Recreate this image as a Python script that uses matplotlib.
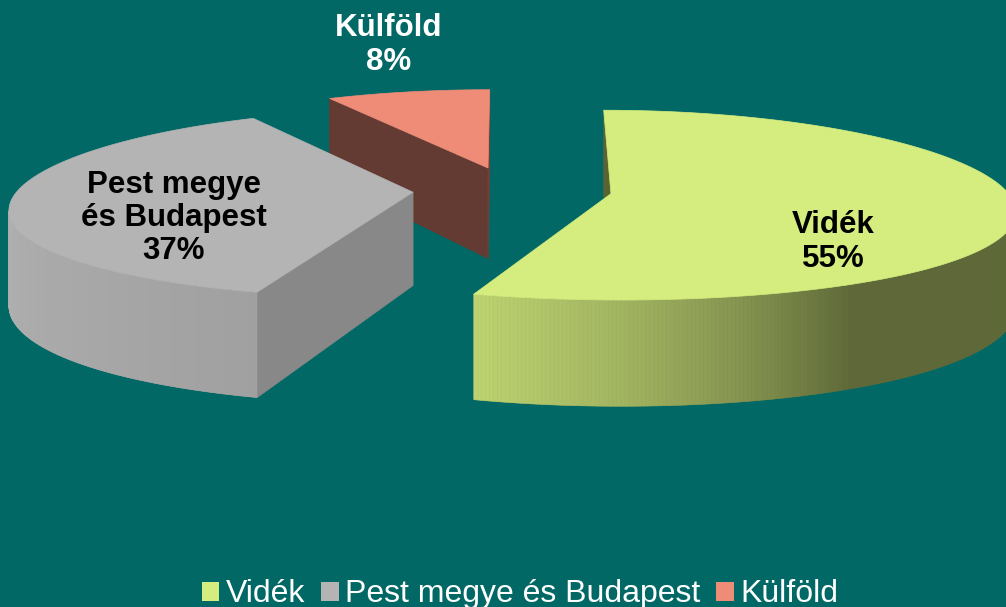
import numpy as np
import matplotlib
matplotlib.use("Agg")
import matplotlib.pyplot as plt
from matplotlib.patches import Polygon, Patch
from matplotlib.colors import to_rgb

# --- data ---
categories = ["Vidék", "Pest megye és Budapest", "Külföld"]
shares = [55, 37, 8]
slice_texts = ["Vidék\n55%", "Pest megye\nés Budapest\n37%", "Külföld\n8%"]
top_colors = ["#D5ED7F", "#B4B4B4", "#EF8C77"]

BG = "#016865"
plt.rcParams["font.family"] = ["Liberation Sans", "DejaVu Sans"]

# --- 3D look (pixel space of the figure) ---
X0, A, KX = 512.3, 395.0, 0.17
Y0, B, KY, H = 283.0, 103.8, 0.12, 93.0
EXPLODE = 0.252

# brightness of the outer wall by angle (light from the front left)
LIGHT_ANG = [0, 180, 200, 252, 270, 285, 300, 330, 360]
LIGHT_VAL = [0.48, 0.98, 0.97, 0.89, 0.76, 0.62, 0.44, 0.44, 0.48]


def proj(uc, vc, u, v, z):
    V = vc + v
    sx = 1.0 / (1.0 + KX * V)
    sy = 1.0 / (1.0 + KY * V)
    x = X0 + A * (uc * (1 + sx) / 2 + u * sx)
    y = Y0 - (B * V + H * z) * sy
    return x, y


def shade(color, f):
    c = np.array(to_rgb(color))
    if f <= 1:
        return tuple(c * f)
    return tuple(c + (1 - c) * min(f - 1, 1))


def side_light(a):
    return np.interp(a % 360, LIGHT_ANG, LIGHT_VAL)


def flat_light(n):
    # radial walls
    return 0.42 + 0.335 * max(0.0, np.cos(np.radians(n - 342))) ** 40


def area(pts):
    p = np.asarray(pts)
    x, y = p[:, 0], p[:, 1]
    return 0.5 * np.sum(x * np.roll(y, -1) - np.roll(x, -1) * y)


fig = plt.figure(figsize=(10.06, 6.07), dpi=100, facecolor=BG)
ax = fig.add_axes([0, 0, 1, 1])
ax.set_xlim(0, 1006)
ax.set_ylim(607, 0)
ax.axis("off")
ax.set_facecolor(BG)

# slice angles: start at 12 o'clock, clockwise
fracs = np.array(shares, dtype=float) / sum(shares)
hi = 90 - 360 * np.concatenate([[0], np.cumsum(fracs)[:-1]])
lo = hi - 360 * fracs

# back to front: Külföld, Pest, Vidék
for i in [2, 1, 0]:
    mid = np.radians((lo[i] + hi[i]) / 2)
    uc, vc = EXPLODE * np.cos(mid), EXPLODE * np.sin(mid)
    col = top_colors[i]

    def P(a, z, r=1.0):
        t = np.radians(a)
        return proj(uc, vc, r * np.cos(t), r * np.sin(t), z)

    # radial walls
    f_hi = [P(hi[i], 0), P(hi[i], 0, 0), P(hi[i], 1, 0), P(hi[i], 1)]
    f_lo = [P(lo[i], 0, 0), P(lo[i], 0), P(lo[i], 1), P(lo[i], 1, 0)]
    for pts, n in [(f_hi, hi[i] + 90), (f_lo, lo[i] - 90)]:
        if area(pts) < 0:
            fc = shade(col, flat_light(n))
            ax.add_patch(Polygon(pts, closed=True, fc=fc, ec=fc, lw=0.6))

    # curved wall: visible strips, on an underlay so seams don't show
    angs = np.linspace(lo[i], hi[i], int(abs(hi[i] - lo[i]) * 2) + 2)
    strips = []
    for a1, a2 in zip(angs[:-1], angs[1:]):
        quad = [P(a1, 0), P(a2, 0), P(a2, 1), P(a1, 1)]
        if area(quad) < 0:
            strips.append((a1, a2, quad))
    if strips:
        vis = [s[0] for s in strips] + [strips[-1][1]]
        under = [P(a, 0) for a in vis] + [P(a, 1) for a in vis[::-1]]
        uf = shade(col, side_light(np.mean(vis)))
        ax.add_patch(Polygon(under, closed=True, fc=uf, ec="none"))
        for a1, a2, quad in strips:
            fc = shade(col, side_light((a1 + a2) / 2))
            ax.add_patch(Polygon(quad, closed=True, fc=fc, ec=fc, lw=0.4))

    top = [P(0, 1, 0)] + [P(a, 1) for a in angs]
    ax.add_patch(Polygon(top, closed=True, fc=col, ec=col, lw=0.5))

# slice labels
label_xy = [(833, 242), (174, 218), (389, 45)]
label_col = ["black", "black", "white"]
for txt, (lx, ly), c in zip(slice_texts, label_xy, label_col):
    ax.text(lx, ly, txt, ha="center", va="center", fontsize=22.5,
            fontweight="bold", color=c, linespacing=1.15)

handles = [Patch(fc=c, ec="none") for c in top_colors]
fig.legend(handles, categories, loc="lower center", ncol=3,
           bbox_to_anchor=(520 / 1006, -0.004), frameon=False,
           fontsize=23, labelcolor="white", handlelength=0.55,
           handleheight=0.55, handletextpad=0.2, columnspacing=0.5,
           borderpad=0, borderaxespad=0)

fig.savefig("out.png", dpi=100, facecolor=BG)
